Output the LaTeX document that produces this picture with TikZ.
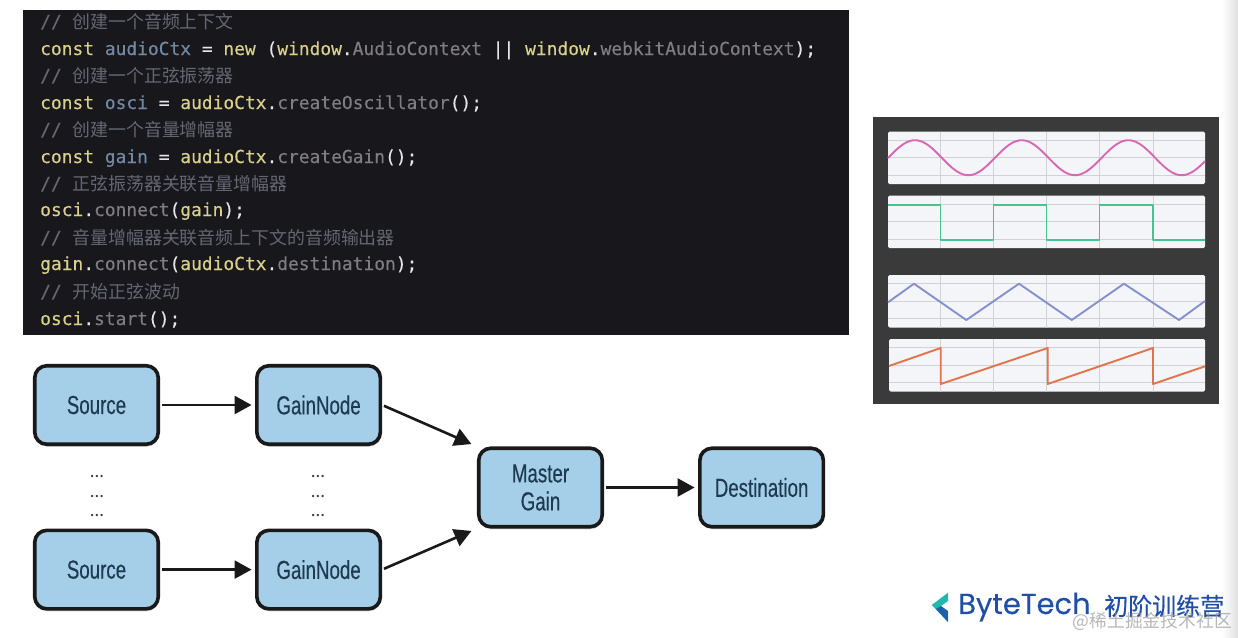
\documentclass[tikz,border=0pt]{standalone}
\usepackage{fontspec}
\setmonofont[FakeBold=0.3]{DejaVu Sans Mono}
\newfontfamily\cjk{Noto Sans CJK SC}
\newfontfamily\cjklogo[FakeBold=0.4]{Noto Sans CJK SC}
\newfontfamily\boxfont[FakeStretch=0.72,FakeBold=0.35]{Liberation Sans}
\newfontfamily\logofont[FakeBold=0.2]{Poppins}
\newfontfamily\dotfont{DejaVu Sans}
\usetikzlibrary{positioning,arrows.meta,shadows}
\definecolor{codebg}{HTML}{17171C}
\definecolor{kwcol}{HTML}{D9D08C}
\definecolor{varcol}{HTML}{7389A3}
\definecolor{propcol}{HTML}{7F7C82}
\definecolor{cmtcol}{HTML}{646772}
\definecolor{puncol}{HTML}{E6E6E6}
\definecolor{boxfill}{HTML}{A5CFE9}
\definecolor{boxtext}{HTML}{1D3A50}
\definecolor{panelbg}{HTML}{3A3A3A}
\definecolor{wavebg}{HTML}{F4F5F8}
\definecolor{gridcol}{HTML}{D2D2D5}
\definecolor{logoblue}{HTML}{1F4FA6}
\definecolor{logoteal}{HTML}{22B8B0}
\definecolor{sinecol}{HTML}{D868B4}
\definecolor{squarecol}{HTML}{45C48F}
\definecolor{tricol}{HTML}{8590CF}
\definecolor{sawcol}{HTML}{E2744C}
\newcommand{\kw}[1]{\textcolor{kwcol}{#1}}
\newcommand{\vr}[1]{\textcolor{varcol}{#1}}
\newcommand{\pr}[1]{\textcolor{propcol}{#1}}
\newcommand{\pu}[1]{\textcolor{puncol}{#1}}
\newcommand{\cmt}[1]{\textcolor{cmtcol}{// {\cjk #1}}}
\tikzset{
	codeline/.style={anchor=base west, inner sep=0pt, font=\ttfamily\fontsize{17.9}{20}\selectfont},
	flowbox/.style={draw=black!90, line width=3.6pt, fill=boxfill, rounded corners=12pt, minimum width=123.5pt, minimum height=78.5pt, align=center, text=boxtext, font=\boxfont\fontsize{26}{29}\selectfont, drop shadow={shadow xshift=0.5pt, shadow yshift=-2.5pt, fill=black!35}},
	flowdots/.style={inner sep=0pt, text height=6pt, text depth=0pt, text=black!75, font=\dotfont\fontsize{8}{8}\selectfont},
	flowarrow/.style={draw=black!90, line width=2.6pt, shorten <=2pt, shorten >=3.5pt, -{Triangle[length=17pt,width=18pt]}},
	wavepanel/.style={fill=wavebg, rounded corners=1.5pt},
	gridline/.style={draw=gridcol, line width=1pt},
	waveline/.style={line width=1.9pt, line join=round}
}
\begin{document}
\begin{tikzpicture}[x=1pt,y=-1pt]
\useasboundingbox (0,0) rectangle (1238,637);
\shade[left color=white, right color=black!12] (1222,0) rectangle (1238,637);
\fill[codebg] (23,10) rectangle (849,335);
\node[codeline] (c1) at (40,28) {\cmt{创建一个音频上下文}};
\node[codeline] (c2) at (40,55) {\kw{const} \vr{audioCtx} \pu{=} \kw{new} \pu{(}\kw{window}\pu{.}\pr{AudioContext} \pu{||} \kw{window}\pu{.}\pr{webkitAudioContext}\pu{);}};
\node[codeline] (c3) at (40,82) {\cmt{创建一个正弦振荡器}};
\node[codeline] (c4) at (40,109) {\kw{const} \vr{osci} \pu{=} \kw{audioCtx}\pu{.}\pr{createOscillator}\pu{();}};
\node[codeline] (c5) at (40,136) {\cmt{创建一个音量增幅器}};
\node[codeline] (c6) at (40,163) {\kw{const} \vr{gain} \pu{=} \kw{audioCtx}\pu{.}\pr{createGain}\pu{();}};
\node[codeline] (c7) at (40,190) {\cmt{正弦振荡器关联音量增幅器}};
\node[codeline] (c8) at (40,216) {\kw{osci}\pu{.}\pr{connect}\pu{(}\kw{gain}\pu{);}};
\node[codeline] (c9) at (40,244) {\cmt{音量增幅器关联音频上下文的音频输出器}};
\node[codeline] (c10) at (40,270) {\kw{gain}\pu{.}\pr{connect}\pu{(}\kw{audioCtx}\pu{.}\pr{destination}\pu{);}};
\node[codeline] (c11) at (40,298) {\cmt{开始正弦波动}};
\node[codeline] (c12) at (40,325) {\kw{osci}\pu{.}\pr{start}\pu{();}};

\fill[panelbg] (873,117) rectangle (1219,404);
\foreach \t/\l in {131.7/888, 195.7/888, 275/888, 339/889} {
	\fill[wavepanel] (\l,\t) rectangle (1205,\t+52.5);
	\foreach \d in {8.7,26.2,43.7}
		\draw[gridline] (\l,\t+\d) -- (1205,\t+\d);
	\foreach \v in {940.5,993.5,1046.5,1099.5,1153}
		\draw[gridline] (\v,\t) -- (\v,\t+52.5);
}
\draw[waveline, draw=sinecol, domain=888:1205, samples=120, smooth] plot (\x,{157.7-17.5*cos((\x-915)*3.374)});
\draw[waveline, draw=squarecol] (888,204.7) -- (940.5,204.7) -- (940.5,240) -- (993.5,240) -- (993.5,204.7) -- (1046.5,204.7) -- (1046.5,240) -- (1099.5,240) -- (1099.5,204.7) -- (1153,204.7) -- (1153,240) -- (1205,240);
\draw[waveline, draw=tricol] (888,302.3) -- (914,283.7) -- (966.3,320) -- (1019,283.7) -- (1071.7,320) -- (1124,283.7) -- (1179,320) -- (1205,301);
\draw[waveline, draw=sawcol] (889,366) -- (940.7,348) -- (940.7,384) -- (1047.7,348) -- (1047.7,384) -- (1153,348) -- (1153,384) -- (1205,366.3);

\node[flowbox] (s1) at (96.5,405) {Source};
\node[flowbox, right=95pt of s1] (g1) {GainNode};
\node[flowbox, below=82.5pt of s1] (s2) {Source};
\node[flowbox, right=95pt of s2] (g2) {GainNode};
\node[flowbox] (m) at (540.5,487.5) {Master\\[-1pt]Gain};
\node[flowbox, right=94pt of m] (d) {Destination};

\node[flowdots] (sd2) at (97,496) {•••};
\node[flowdots, above=13.3pt of sd2] (sd1) {•••};
\node[flowdots, below=13.3pt of sd2] (sd3) {•••};
\node[flowdots] (gd2) at (318,496) {•••};
\node[flowdots, above=13.3pt of gd2] (gd1) {•••};
\node[flowdots, below=13.3pt of gd2] (gd3) {•••};

\draw[flowarrow] (s1) -- (g1);
\draw[flowarrow] (s2) -- (g2);
\draw[flowarrow, shorten >=6pt] (g1.east) -- (m.north west);
\draw[flowarrow, shorten >=6pt] (g2.east) -- (m.south west);
\draw[flowarrow] (m) -- (d);

\fill[logoteal] (931.7,605) -- (948,592.7) -- (948,601) -- (941,606) -- (948,622) -- cycle;
\fill[logoblue!85!logoteal] (941,606) -- (948,611) -- (948,622) -- (936,609) -- cycle;
\node[anchor=west, inner sep=0pt, text=logoblue, font=\logofont\fontsize{29}{32}\selectfont] (bt) at (958,607) {ByteTech};
\node[anchor=west, inner sep=0pt, text=logoblue, font=\cjklogo\fontsize{24}{26}\selectfont] (cn) at (1104,606) {初阶训练营};
\node[anchor=east, inner sep=0pt, text=black!40, opacity=0.7, font=\cjk\fontsize{17.8}{19}\selectfont] (wm) at (1232,621) {@稀土掘金技术社区};
\end{tikzpicture}
\end{document}
